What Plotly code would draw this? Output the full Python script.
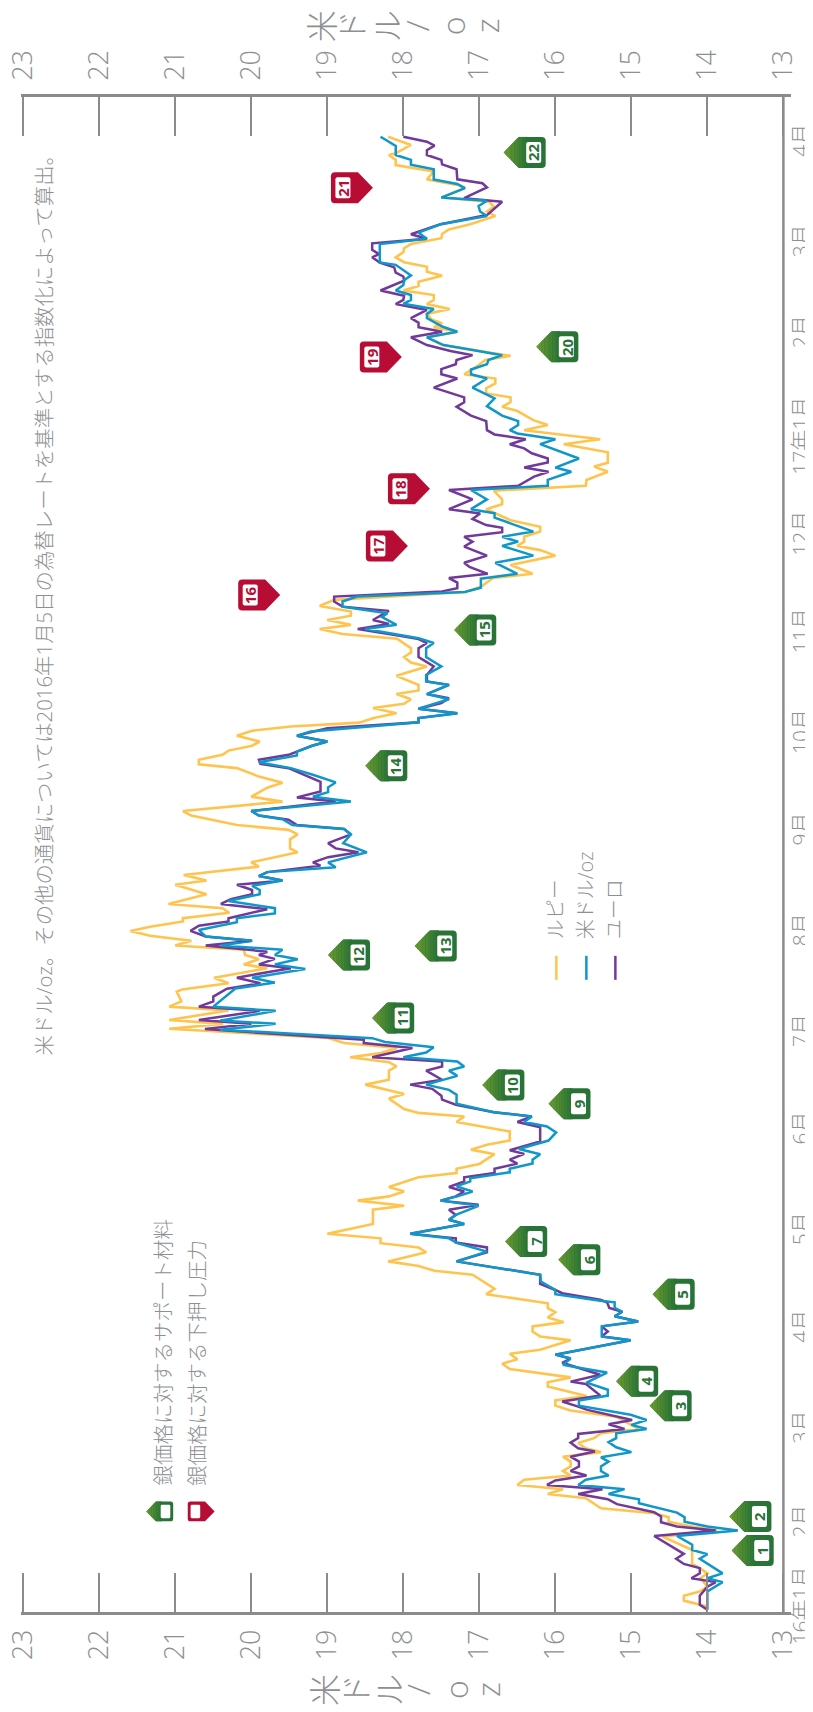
import plotly.graph_objects as go
import pandas as pd

# days are counted from the start of the time axis (2016-01-04), newest first
euro_days = [454.0,452.5,451.3,449.9,448.4,446.9,445.5,444.0,440.9,439.7,438.4,435.1,434.0,429.9,427.1,425.6,424.0,422.6,421.2,419.2,417.9,416.9,415.3,413.8,412.2,411.0,409.7,406.7,405.1,403.8,402.5,400.7,398.2,396.8,395.4,394.0,392.3,
389.9,388.1,386.8,385.3,384.0,382.5,380.9,379.6,376.8,373.8,372.3,370.9,368.2,366.5,363.7,362.4,360.9,359.4,358.1,356.6,355.0,353.8,352.2,350.9,349.4,346.6,345.3,342.4,339.4,338.1,336.4,334.5,333.7,332.3,330.9,329.4,327.9,325.1,
322.9,321.6,319.5,318.2,316.8,315.1,314.1,312.5,311.0,309.4,308.1,305.3,304.1,302.5,300.2,299.4,298.2,296.6,293.9,291.0,288.4,286.4,285.3,282.5,281.2,279.7,278.0,276.6,275.1,273.8,272.0,269.7,267.9,266.6,264.8,263.8,262.3,261.0,259.7,
257.6,255.5,252.5,250.7,249.4,246.5,245.1,243.8,242.2,241.0,239.3,236.6,235.0,233.8,232.3,230.7,229.7,227.7,226.5,225.1,223.8,222.2,220.9,219.4,217.9,216.3,213.5,212.5,211.2,209.6,207.9,206.6,205.1,203.2,202.2,201.0,199.3,198.1,196.9,195.2,193.5,191.8,
189.4,187.9,186.3,185.0,182.2,181.0,179.4,176.1,175.1,173.6,170.7,169.4,167.9,166.6,163.8,162.3,161.0,158.9,157.7,156.1,153.8,152.5,150.8,149.2,144.8,142.1,141.0,139.2,138.0,136.4,135.1,133.8,132.5,130.8,129.4,127.9,126.6,
125.3,123.8,122.2,120.7,119.4,116.4,115.0,113.7,112.2,110.7,107.9,103.8,101.0,99.1,98.1,96.1,95.3,93.6,92.4,91.0,89.4,87.9,86.3,84.8,83.6,79.2,78.0,76.7,75.2,73.0,70.9,70.2,66.6,64.8,63.3,
62.2,59.1,57.8,56.3,54.8,53.5,52.1,50.4,49.4,47.8,46.3,44.8,43.4,42.0,40.5,39.1,37.8,36.3,34.7,33.2,30.7,29.4,27.6,26.3,25.1,23.4,17.9,16.4,14.8,13.5,11.9,10.4,9.2,7.8,5.0,2.2,0.7]
euro_values = [18.00,17.69,17.59,17.69,17.69,17.50,17.49,17.30,17.29,16.96,16.90,17.20,16.70,16.90,17.51,17.69,17.90,17.69,18.41,18.41,18.32,18.41,18.31,18.12,18.10,18.00,17.99,18.30,17.99,18.00,18.10,17.69,17.90,17.80,17.80,17.49,17.90,
17.69,17.38,17.09,17.30,17.31,17.50,17.50,17.29,17.60,17.20,17.20,17.30,17.11,16.91,16.90,16.80,16.39,16.60,16.41,16.31,16.10,16.10,16.41,16.09,16.28,16.49,17.40,17.09,17.40,16.99,17.09,16.91,16.70,16.70,17.20,17.09,17.20,16.90,
17.20,17.13,16.89,17.40,17.29,17.29,17.49,18.91,18.91,18.80,18.19,18.40,18.19,18.60,17.99,17.80,17.69,17.80,17.80,17.60,17.69,17.69,17.40,17.69,17.40,17.50,17.80,17.29,17.80,17.80,19.00,19.40,19.00,19.20,19.40,19.51,19.90,19.88,19.51,
19.30,19.09,19.09,19.40,18.89,20.00,19.90,19.51,19.40,18.78,18.69,18.99,18.89,18.59,18.99,19.19,19.09,19.79,19.90,19.59,20.19,19.99,19.99,20.27,20.40,19.79,20.30,20.30,20.69,20.80,20.60,19.99,20.60,19.79,19.90,19.69,19.90,19.48,19.79,20.19,19.88,20.32,
20.50,20.50,20.69,19.89,20.69,20.00,20.61,18.52,18.52,17.88,18.41,17.49,17.49,17.70,17.49,17.91,17.62,17.50,17.49,17.31,16.81,16.31,16.50,16.20,16.20,16.60,16.41,16.60,16.50,16.80,16.80,17.20,17.20,17.40,17.20,17.31,17.51,
17.01,17.40,17.31,17.40,17.20,17.91,17.31,17.31,16.90,16.90,17.30,16.20,16.20,16.00,15.91,15.41,15.32,15.29,15.12,15.22,14.91,15.39,15.31,15.39,15.01,16.00,15.80,15.91,15.71,15.41,15.80,15.60,15.41,15.91,15.71,
15.58,14.99,15.30,15.09,15.70,15.70,15.80,15.70,15.48,15.80,15.69,15.69,15.80,15.59,16.00,16.11,15.38,15.70,15.31,15.19,14.70,14.61,14.61,14.40,13.89,14.70,14.31,14.41,14.31,14.10,14.10,14.21,13.89,14.00,14.10,14.10,14.00]

usd_days = [454.0,451.2,448.4,446.9,445.4,444.0,440.9,439.5,438.2,435.3,434.3,432.7,431.0,429.6,427.1,425.6,424.5,422.6,421.0,415.3,414.6,411.3,409.9,408.4,406.7,405.3,403.8,402.6,401.0,399.5,398.2,395.6,394.0,392.3,
389.9,388.4,386.8,385.3,384.0,382.4,380.9,379.6,376.8,373.5,371.1,368.2,366.5,365.3,363.7,362.7,360.9,359.4,355.0,352.2,350.9,348.4,346.6,345.3,342.4,339.4,338.1,336.8,332.5,330.9,329.4,328.1,325.1,322.9,319.5,318.0,315.2,313.9,
312.5,311.0,309.4,307.4,306.2,303.8,302.5,299.7,298.2,296.6,293.9,291.0,288.4,286.4,285.3,282.5,280.9,278.0,276.6,275.1,273.8,271.0,269.7,267.9,266.6,264.8,263.6,261.5,259.7,
257.6,255.3,253.8,252.3,250.9,249.4,246.5,245.1,244.0,242.2,241.0,239.3,236.6,233.8,230.7,229.2,227.7,226.5,225.1,223.5,222.2,220.9,218.8,216.6,215.0,213.5,212.3,209.9,207.9,206.6,205.1,203.8,202.2,200.9,199.3,197.9,195.2,193.7,191.9,
186.3,185.0,182.0,181.0,179.2,176.6,175.4,173.8,172.2,170.7,169.4,167.9,166.6,165.0,162.3,160.7,159.2,156.4,153.8,152.5,150.8,149.4,147.6,145.1,142.5,140.9,139.2,138.0,136.4,135.3,133.5,132.5,131.0,129.4,127.9,126.6,
125.0,122.2,120.7,119.4,116.4,115.0,113.5,110.9,107.9,103.8,101.7,99.1,97.8,95.8,95.3,93.6,92.4,91.0,89.4,87.9,84.8,83.6,79.2,78.0,76.1,75.2,73.7,70.6,68.4,66.6,65.1,63.5,
61.9,60.7,59.1,57.6,56.3,55.0,53.5,52.3,50.7,49.2,47.6,46.3,44.8,43.4,42.0,40.7,39.1,37.8,36.3,34.7,33.5,30.6,29.2,27.8,26.3,25.1,23.4,20.7,19.1,17.8,16.4,11.9,10.4,9.2,6.3,0.7]
usd_values = [18.30,18.10,18.10,17.90,17.90,17.60,17.60,17.29,17.19,17.50,16.90,17.01,16.99,16.90,17.51,17.69,17.80,17.69,18.31,18.31,18.10,17.90,17.99,18.00,18.10,17.90,17.90,18.00,17.60,17.69,17.69,17.49,17.29,17.69,
17.47,17.09,16.70,16.88,16.90,17.11,17.11,16.90,17.09,16.80,16.90,16.70,16.49,16.49,16.60,16.50,16.00,16.20,15.69,16.00,15.79,16.10,16.10,17.11,16.90,17.11,16.80,16.80,16.29,16.70,16.49,16.70,16.29,16.79,16.50,16.98,16.98,17.19,
18.61,18.80,18.80,18.21,18.28,18.09,18.50,17.80,17.60,17.70,17.70,17.50,17.70,17.70,17.40,17.69,17.40,17.80,17.29,17.80,17.80,19.22,19.40,19.00,19.20,19.40,19.40,19.90,19.48,
19.18,18.89,18.99,18.99,19.19,18.69,20.00,19.90,19.59,19.46,18.78,18.69,18.79,18.48,18.99,18.89,19.79,19.90,19.59,19.99,19.89,19.89,20.30,19.69,19.69,20.19,20.19,20.69,20.60,19.99,20.40,19.59,19.69,19.39,19.69,19.29,19.99,19.69,20.21,
20.50,19.68,20.41,19.68,20.41,18.41,18.24,17.60,17.70,18.00,17.29,17.20,17.40,17.29,17.70,17.40,17.30,17.30,16.81,16.31,16.41,16.11,15.99,16.09,16.48,16.20,16.30,16.30,16.60,16.60,17.12,17.12,17.30,17.09,17.29,17.51,
17.01,17.31,17.40,17.20,17.91,17.40,17.29,16.90,17.30,16.20,16.19,16.00,16.00,15.41,15.22,15.22,15.12,15.22,14.91,15.39,15.39,15.01,16.00,15.80,15.90,15.69,15.32,15.59,15.31,15.31,15.69,15.69,
15.30,15.01,14.80,15.00,14.80,15.20,15.20,15.30,15.20,15.00,15.40,15.30,15.40,15.40,15.30,15.60,15.70,15.09,15.30,14.90,14.90,14.40,14.30,14.30,14.00,13.60,14.40,14.20,14.20,14.00,14.10,13.80,14.00,13.80,14.00,14.00]

rupee_days = [454.0,451.5,448.9,448.4,446.9,445.3,443.3,440.9,439.2,438.2,435.3,434.0,432.5,431.0,429.6,427.1,425.5,424.1,422.8,421.0,419.7,418.5,416.9,415.4,414.0,412.5,411.2,409.4,408.1,406.7,405.3,403.8,402.5,401.0,399.5,397.8,396.6,395.4,394.0,392.3,
389.9,386.6,385.3,382.4,380.9,379.6,378.1,376.6,375.0,373.8,372.3,370.9,369.6,366.8,365.3,363.7,360.9,359.4,356.9,353.7,352.5,350.9,348.4,346.6,345.1,342.4,340.9,339.4,337.9,336.0,334.0,332.5,330.9,329.4,328.1,326.8,325.1,322.2,319.5,318.2,315.5,313.9,
311.5,309.6,307.9,306.6,305.3,303.8,302.5,301.0,299.5,296.6,295.3,293.9,292.2,291.0,288.1,285.3,283.6,282.5,280.9,279.5,278.2,276.6,275.1,273.7,272.5,271.2,269.7,267.9,266.6,265.1,263.8,262.3,260.9,259.7,
257.1,255.2,253.7,250.9,249.4,246.5,245.1,242.2,240.7,239.3,237.8,235.0,233.8,230.7,229.4,226.8,225.1,223.8,220.9,217.9,216.6,215.2,213.5,212.5,210.9,209.6,208.1,206.6,205.1,203.8,202.2,200.9,199.3,198.1,195.2,193.5,191.6,
190.9,187.9,186.3,185.1,182.2,181.0,179.5,176.7,175.1,173.6,172.0,170.7,169.2,167.9,166.6,163.8,162.3,159.4,158.0,154.8,153.6,152.5,150.8,147.9,145.1,143.8,142.3,140.9,137.9,136.4,135.1,133.8,130.8,129.4,127.9,126.6,
125.0,123.8,119.4,116.4,115.0,113.5,112.2,110.7,107.9,106.5,105.0,103.8,99.5,97.8,95.0,93.5,92.3,90.6,89.2,87.9,86.3,84.8,83.6,80.7,79.5,77.8,76.4,74.8,73.0,72.2,70.7,69.4,66.5,65.1,63.5,62.0,
60.1,56.3,55.0,53.5,52.0,50.4,49.2,47.8,46.3,44.8,43.4,42.0,40.7,39.1,37.8,36.3,35.0,31.9,30.4,29.2,27.8,26.3,25.1,23.2,19.1,14.8,13.5,11.9,10.4,7.8,6.3,5.0,3.5,1.7]
rupee_values = [18.20,17.90,18.10,18.19,18.10,18.10,17.60,17.69,17.29,17.19,17.50,16.87,16.81,16.90,16.79,17.12,17.40,17.49,17.50,17.90,17.99,18.00,18.10,17.99,17.69,17.69,17.49,17.80,17.80,18.00,17.60,17.60,17.69,17.39,17.69,17.63,17.49,17.60,17.29,17.69,
17.49,16.59,16.92,17.09,17.20,16.79,16.79,16.91,16.91,16.59,16.59,16.70,16.50,16.29,16.10,16.41,15.41,15.89,15.31,15.31,15.49,15.31,15.59,15.60,16.81,16.70,16.70,16.91,16.77,16.59,16.20,16.20,16.41,16.41,16.50,16.20,16.00,16.59,16.30,16.82,16.98,17.19,
18.91,19.10,18.69,18.69,19.00,18.69,19.10,18.80,18.08,17.90,17.90,17.99,17.90,17.69,18.09,17.80,17.80,18.09,17.90,17.99,18.40,18.09,18.39,18.58,19.48,19.99,20.19,19.89,19.99,20.30,20.38,20.69,20.69,20.19,
19.90,19.59,19.79,20.00,19.59,20.90,20.79,20.19,19.51,19.39,19.49,19.49,19.39,20.00,19.90,20.89,20.59,21.00,20.59,21.09,20.38,20.29,20.90,20.90,21.33,21.59,21.33,20.79,21.00,20.10,20.08,19.90,20.10,19.79,20.49,20.30,20.91,
20.98,20.92,21.08,20.30,21.08,20.37,21.08,19.00,18.78,18.08,18.30,18.70,18.19,18.09,18.19,18.19,18.50,17.99,18.19,17.99,17.80,17.20,17.30,16.60,16.60,16.90,17.11,16.80,17.00,17.30,17.30,17.80,18.19,17.99,18.19,18.60,
17.99,18.40,18.40,19.00,18.30,18.30,17.80,17.70,18.20,17.80,17.59,17.09,16.80,16.91,16.10,16.10,16.00,16.10,15.89,16.30,16.30,16.20,15.80,16.20,16.60,16.50,16.70,16.60,16.00,15.80,16.10,16.10,15.59,16.00,16.00,15.80,
15.20,14.90,15.40,15.49,15.70,15.60,15.40,15.90,15.80,15.80,15.90,15.80,16.41,16.50,15.90,16.10,15.60,15.40,14.70,14.51,14.51,14.20,13.87,14.59,14.20,14.20,14.10,14.00,14.09,14.00,14.10,14.31,14.31,14.00]

# numbered flags: (number, value, day)
support_flags = [(1,13.68,18.9),(2,13.71,29.4),(3,14.76,63.5),(4,15.20,71.0),(5,14.72,97.8),(6,15.96,108.4),(7,16.66,114.0),(9,16.09,156.4),(10,16.96,162.2),(11,18.41,182.8),(12,18.99,202.2),(13,17.85,205.0),(14,18.50,260.4),(15,17.33,302.2),(20,16.25,389.4),(22,16.68,449.2)]
pressure_flags = [(16,19.62,313.0),(17,17.94,328.1),(18,17.65,345.7),(19,18.02,386.2),(21,18.40,438.3)]

month_dates = ["2016-01-05","2016-01-31","2016-02-29","2016-03-31","2016-04-30","2016-05-31","2016-06-30","2016-07-31","2016-08-31","2016-09-30","2016-10-31","2016-11-30","2016-12-30","2017-01-31","2017-02-28","2017-03-31"]
month_labels = ["16年1月","2月","3月","4月","5月","6月","7月","8月","9月","10月","11月","12月","17年1月","2月","3月","4月"]
price_ticks = list(range(13, 24))
axis_title_chars = list("米ドル/oz")
legend_names = ["ルピー", "米ドル/oz", "ユーロ"]
flag_names = ["銀価格に対するサポート材料", "銀価格に対する下押し圧力"]
note = "米ドル/oz。その他の通貨については2016年1月5日の為替レートを基準とする指数化によって算出。"

W, H = 813, 1712
PAGE = 8  # the page body's own margin
L, R, T, B = 20.72, 790.6, 97.0, 1612.3
FONT = "Open Sans, Noto Sans CJK JP, sans-serif"
GREY = "#8e8f92"
AXIS = "#8b8b8e"
YELLOW, BLUE, PURPLE = "#ffc44d", "#0f97c9", "#70399a"
GREEN, RED = "#2a7337", "#b70d35"
BASE = pd.Timestamp("2016-01-04")


def when(day):
    return BASE + pd.to_timedelta(day, unit="D")


def fmt(day):
    return (BASE + pd.to_timedelta(day, unit="D")).strftime("%Y-%m-%d %H:%M:%S")


def px(x):
    return (x - L) / (R - L)


def py(y):
    return (B - y) / (B - T)


fig = go.Figure()
for name, days, vals, col, w in [
    ("ルピー", rupee_days, rupee_values, YELLOW, 2.6),
    ("ユーロ", euro_days, euro_values, PURPLE, 2.5),
    ("米ドル/oz", usd_days, usd_values, BLUE, 2.5),
]:
    fig.add_trace(go.Scatter(x=list(vals), y=[when(d) for d in days], mode="lines", name=name,
                             line=dict(color=col, width=w), showlegend=False, hoverinfo="skip"))
fig.add_trace(go.Scatter(x=[23, 13], y=[when(0), when(1)], xaxis="x2", mode="lines", opacity=0,
                         showlegend=False, hoverinfo="skip"))

shapes, ann = [], []
axis_text = dict(family=FONT, color=GREY, size=27, weight=300)


def flag_shapes(xa, ya, kind, xref="x", yref="y", s=1.0):
    """Flag outline, pixel-sized, anchored at its tip."""
    sign = 1 if kind == "support" else -1
    out = []
    hw, body, full = 15.5 * s, 15.0 * s, 42.0 * s
    r = 4 * s

    def add(path, color):
        out.append(dict(type="path", xref=xref, yref=yref, xsizemode="pixel", ysizemode="pixel",
                        xanchor=xa, yanchor=ya, path=path, fillcolor=color, line=dict(width=0), layer="above"))

    base = GREEN if kind == "support" else RED
    add(f"M0 0 L{sign*body} {hw} L{sign*(full-r)} {hw} Q{sign*full} {hw} {sign*full} {hw-r} "
        f"L{sign*full} {-hw+r} Q{sign*full} {-hw} {sign*(full-r)} {-hw} L{sign*body} {-hw} Z", base)
    if kind == "support":
        steps = 9
        span = 24.0 * s
        for i in range(steps):
            x0, x1 = span * i / steps, span * (i + 1) / steps
            h0, h1 = min(x0, body) * hw / body, min(x1, body) * hw / body
            t = i / (steps - 1)
            c = "rgb(%d,%d,%d)" % (106 + (42 - 106) * t, 156 + (115 - 156) * t, 46 + (55 - 46) * t)
            add(f"M{x0} {h0} L{x1} {h1} L{x1} {-h1} L{x0} {-h0} Z", c)
    i0, i1, ih, ir = 22.5 * s, 37.5 * s, 10.5 * s, 2.0 * s
    add(f"M{sign*(i0+ir)} {ih} L{sign*(i1-ir)} {ih} Q{sign*i1} {ih} {sign*i1} {ih-ir} L{sign*i1} {-ih+ir} "
        f"Q{sign*i1} {-ih} {sign*(i1-ir)} {-ih} L{sign*(i0+ir)} {-ih} Q{sign*i0} {-ih} {sign*i0} {-ih+ir} "
        f"L{sign*i0} {ih-ir} Q{sign*i0} {ih} {sign*(i0+ir)} {ih} Z", "white")
    return out


for kind, flags, col, sign in [("support", support_flags, GREEN, 1), ("pressure", pressure_flags, RED, -1)]:
    for num, val, day in flags:
        shapes += flag_shapes(val, fmt(day), kind)
        ann.append(dict(x=val, y=fmt(day), xref="x", yref="y", text=f"<b>{num}</b>", showarrow=False,
                        textangle=-90, xshift=sign * 30, font=dict(family="Open Sans", size=15, color=col),
                        xanchor="center", yanchor="middle"))

# legend flags
shapes += flag_shapes(px(146), py(1511.7), "support", xref="paper", yref="paper", s=0.64)
shapes += flag_shapes(px(214.3), py(1511.7), "pressure", xref="paper", yref="paper", s=0.64)

# right-hand time axis line
shapes.append(dict(type="line", xref="x", yref="paper", x0=13, x1=13, y0=0, y1=1,
                   line=dict(color=AXIS, width=2.5), layer="above"))

# legend swatches
for xp, col in zip([556, 586, 615], [YELLOW, BLUE, PURPLE]):
    shapes.append(dict(type="line", xref="paper", yref="paper", x0=px(xp), x1=px(xp), y0=py(956), y1=py(980),
                       line=dict(color=col, width=2.5)))


def label(text, x, y, size, yanchor="middle", color=GREY):
    ann.append(dict(x=px(x), y=py(y), xref="paper", yref="paper", text=text, showarrow=False, textangle=-90,
                    xanchor="center", yanchor=yanchor, font=dict(family=FONT, size=size, color=color, weight=300)))


for name, x in zip(legend_names, [556, 586, 615]):
    label(name, x - 1, 941, 20, "bottom")
for name, x in zip(flag_names, [163, 196]):
    label(name, x, 1488, 20.5, "bottom")
label(note, 44, 1058, 20.4, "bottom")
for ch, xt, xb in zip(axis_title_chars, [321, 351, 386, 416, 452, 486], [324, 355, 388, 417, 455, 487]):
    label(ch, xt, 26, 32)
    label(ch, xb, 1690, 32)

axis_common = dict(range=[23.03, 12.9], tickmode="array", tickvals=price_ticks, ticktext=[str(t) for t in price_ticks],
                   tickangle=-90, ticks="inside", ticklen=39, tickwidth=2, tickcolor=AXIS, showline=True,
                   linecolor=AXIS, linewidth=2.5, showgrid=False, zeroline=False, tickfont=axis_text,
                   ticklabeloverflow="allow", layer="above traces")

fig.update_layout(
    width=W, height=H, autosize=False, paper_bgcolor="white", plot_bgcolor="white",
    margin=dict(l=L - PAGE, r=W + PAGE - R, t=T - PAGE, b=H + PAGE - B, pad=0, autoexpand=False),
    showlegend=False, shapes=shapes, annotations=ann,
    xaxis=dict(side="bottom", ticklabelstandoff=4, **axis_common),
    xaxis2=dict(side="top", overlaying="x", anchor="y", ticklabelstandoff=8, **axis_common),
    yaxis=dict(type="date", range=[when(0), when((B - T) / 3.25)], side="right", anchor="free", position=1,
               showgrid=False, zeroline=False, showline=False, ticks="", tickmode="array",
               tickvals=month_dates, ticktext=month_labels, tickangle=-90, ticklabelstandoff=-5,
               ticklabeloverflow="allow",
               tickfont=dict(family=FONT, color=GREY, size=21, weight=300)),
)
fig.write_html("out.html")
